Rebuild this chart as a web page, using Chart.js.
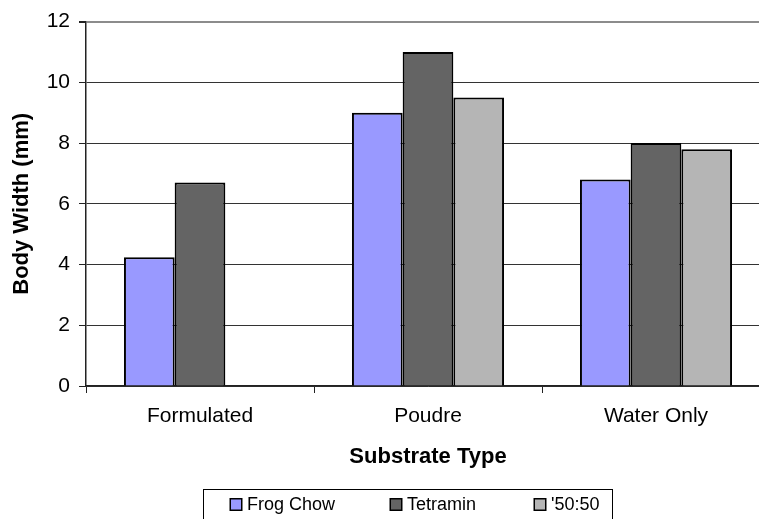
<!DOCTYPE html>
<html>
<head>
<meta charset="utf-8">
<title>Body Width by Substrate Type</title>
<script src="https://cdn.jsdelivr.net/npm/chart.js@4/dist/chart.umd.min.js"></script>
<style>
  html, body { margin: 0; padding: 0; background: #ffffff; overflow: hidden; }
  #wrap { width: 775px; height: 519px; }
</style>
</head>
<body>
<div id="wrap"><canvas id="chart" width="775" height="519"></canvas></div>
<script>
// Substrate categories on the x axis
const categories = ['Formulated', 'Poudre', 'Water Only'];

// Mean body width (mm) per diet, one value per substrate
const frogChow = [4.24, 9.0, 6.8];
const tetramin = [6.7, 11.0, 8.0];
const mix5050 = [null, 9.5, 7.8];

// Series names shown in the legend
const seriesNames = ['Frog Chow', 'Tetramin', "'50:50"];

// Y axis tick range
const yTicks = { min: 0, max: 12, step: 2 };

const FONT = "'Liberation Sans', Arial, sans-serif";

// Boxed legend row beneath the axis title
const boxedLegend = {
  id: 'boxedLegend',
  afterDraw(chart) {
    const ctx = chart.ctx;
    ctx.save();
    ctx.strokeStyle = '#000000';
    ctx.lineWidth = 1;
    ctx.strokeRect(203.5, 489.5, 409, 60);
    const xs = [230, 390, 534];
    ctx.font = '18px ' + FONT;
    ctx.textBaseline = 'middle';
    ctx.textAlign = 'left';
    chart.data.datasets.forEach((ds, i) => {
      const x = xs[i];
      ctx.fillStyle = ds.backgroundColor;
      ctx.fillRect(x, 498.5, 12, 12);
      ctx.lineWidth = 1.5;
      ctx.strokeStyle = '#000000';
      ctx.strokeRect(x + 0.25, 498.75, 11.5, 11.5);
      ctx.fillStyle = '#000000';
      ctx.fillText(ds.label, x + 17, 505);
    });
    ctx.restore();
  }
};

new Chart(document.getElementById('chart'), {
  type: 'bar',
  data: {
    labels: categories,
    datasets: [
      { label: seriesNames[0], data: frogChow, backgroundColor: '#9999ff' },
      { label: seriesNames[1], data: tetramin, backgroundColor: '#646464' },
      { label: seriesNames[2], data: mix5050, backgroundColor: '#b5b5b5' }
    ]
  },
  options: {
    responsive: false,
    animation: false,
    devicePixelRatio: 1,
    layout: { padding: { left: 0, right: 5, top: 20, bottom: 0 } },
    datasets: {
      bar: {
        borderColor: '#000000',
        borderWidth: 2,
        categoryPercentage: 0.667,
        barPercentage: 1.0
      }
    },
    plugins: {
      legend: { display: false },
      tooltip: { enabled: false }
    },
    scales: {
      x: {
        offset: true,
        afterFit(scale) { scale.height = 133; },
        grid: {
          offset: true,
          drawOnChartArea: false,
          drawTicks: true,
          tickLength: 7,
          tickColor: '#222222',
          tickWidth: 1
        },
        border: { display: true, color: '#222222', width: 1.5 },
        ticks: {
          color: '#000000',
          font: { family: FONT, size: 21 },
          padding: 11,
          maxRotation: 0
        },
        title: {
          display: true,
          text: 'Substrate Type',
          color: '#000000',
          font: { family: FONT, size: 22, weight: 'bold' },
          padding: { top: 0, bottom: 49 }
        }
      },
      y: {
        min: yTicks.min,
        max: yTicks.max,
        afterFit(scale) { scale.width = 86; },
        grid: {
          drawTicks: true,
          tickLength: 7,
          color: (c) => (c.tick && c.tick.value === yTicks.max) ? '#8c8c8c' : '#333333',
          lineWidth: (c) => (c.tick && c.tick.value === yTicks.max) ? 2 : 1,
          tickColor: '#222222'
        },
        border: { display: true, color: '#222222', width: 1.5 },
        ticks: {
          stepSize: yTicks.step,
          color: '#000000',
          font: { family: FONT, size: 21 },
          padding: 9
        },
        title: {
          display: true,
          text: 'Body Width (mm)',
          color: '#000000',
          font: { family: FONT, size: 22, weight: 'bold' },
          padding: { top: 9, bottom: 0 }
        }
      }
    }
  },
  plugins: [boxedLegend]
});
</script>
</body>
</html>
